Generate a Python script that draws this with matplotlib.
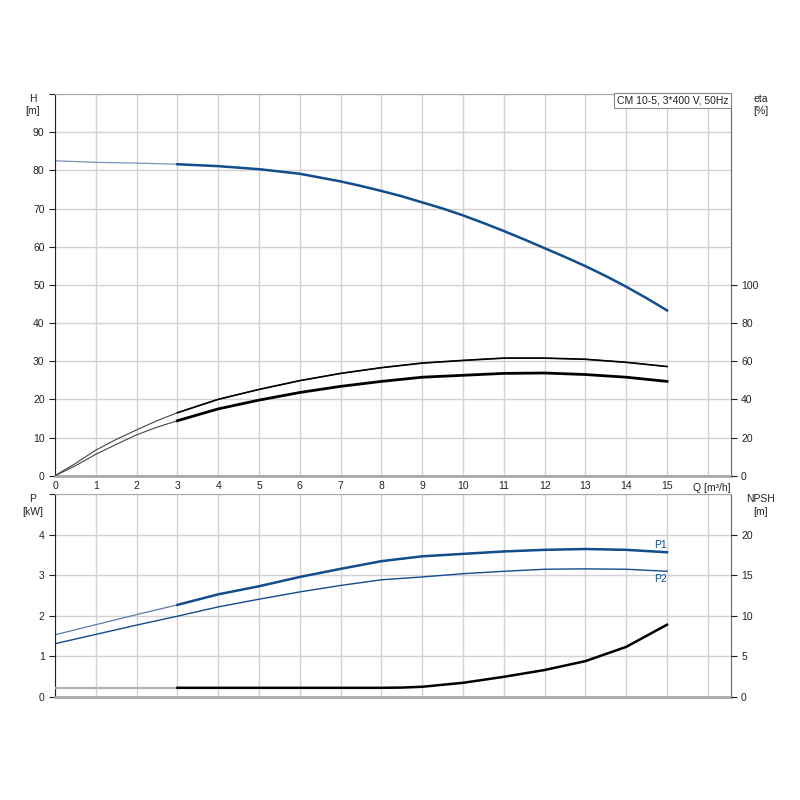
import matplotlib.pyplot as plt
import numpy as np

plt.rcParams['font.family'] = ['Liberation Sans', 'DejaVu Sans']

# values, flow in m3/h
q_head = np.array([0, 1, 2, 3, 4, 5, 6, 7, 7.5, 8, 8.5, 9, 9.5, 10, 10.5,
                   11, 11.5, 12, 12.5, 13, 13.5, 14, 14.5, 15])
head = np.array([82.5, 82.1, 81.9, 81.6, 81.1, 80.3, 79.1, 77.1, 75.9, 74.6,
                 73.2, 71.6, 70.0, 68.2, 66.2, 64.1, 61.9, 59.6, 57.3, 54.9,
                 52.3, 49.5, 46.5, 43.3])

q_eta = np.array([0, 0.5, 1, 1.5, 2, 2.5, 3, 4, 5, 6, 7, 8, 9, 10, 11, 12,
                  13, 14, 15])
eta_pump = np.array([0, 6.4, 13.4, 19.0, 24.0, 28.8, 33.0, 40.0, 45.2, 49.8,
                     53.6, 56.6, 59.0, 60.4, 61.6, 61.6, 61.0, 59.4, 57.2])
eta_total = np.array([0, 5.2, 11.2, 16.4, 21.4, 25.4, 28.8, 35.0, 39.6, 43.6,
                      46.8, 49.4, 51.6, 52.6, 53.6, 53.8, 53.0, 51.6, 49.4])

q_pow = np.array([0, 1, 2, 3, 4, 5, 6, 7, 8, 9, 10, 11, 12, 13, 14, 15])
p1 = np.array([1.53, 1.78, 2.03, 2.27, 2.53, 2.73, 2.96, 3.16, 3.35, 3.47,
               3.53, 3.59, 3.63, 3.65, 3.63, 3.57])
p2 = np.array([1.31, 1.54, 1.77, 1.99, 2.22, 2.41, 2.59, 2.75, 2.89, 2.96,
               3.04, 3.10, 3.15, 3.16, 3.15, 3.10])

q_npsh = np.array([0, 3, 4, 5, 6, 7, 8, 8.5, 9, 10, 11, 12, 13, 14, 15])
npsh = np.array([1.1, 1.1, 1.1, 1.1, 1.1, 1.1, 1.1, 1.13, 1.23, 1.72, 2.46,
                 3.3, 4.4, 6.16, 8.9])

title = 'CM 10-5, 3*400 V, 50Hz'
blue = '#124d8c'
grid_c = '#d2d2d2'
q_start = 3  # thin line below this flow

fig = plt.figure(figsize=(8, 8), dpi=100)
ax1 = fig.add_axes([0.06875, 0.4054, 0.8446, 0.4771])
ax2 = fig.add_axes([0.06875, 0.1291, 0.8446, 0.2529])

def style(ax):
    ax.set_xlim(0, 16.56)
    ax.set_xticks(np.arange(0, 17))
    ax.grid(True, color=grid_c, lw=1)
    ax.set_axisbelow(True)
    ax.spines['left'].set_color('#222222')
    ax.spines['top'].set_color('#a8a8a8')
    ax.spines['bottom'].set_color('#a8a8a8')
    ax.spines['bottom'].set_linewidth(2)
    ax.spines['right'].set_color('#666666')
    ax.tick_params(axis='both', labelsize=7.5, colors='#222222', length=4)
    ax.tick_params(axis='x', length=0)

style(ax1)
style(ax2)

# top: head and efficiency
ax1.set_ylim(0, 100)
ax1.set_yticks(np.arange(0, 101, 10))
ax1.set_yticklabels([str(v) for v in range(0, 100, 10)] + [''])
ax1.set_xticklabels([str(v) for v in range(0, 16)] + [''])
ax1.tick_params(axis='x', pad=4)

m = q_head >= q_start
ax1.plot(q_head, head, color='#7a93b8', lw=0.9)
ax1.plot(q_head[m], head[m], color=blue, lw=1.8)

axe = ax1.twinx()
axe.set_ylim(0, 200)
axe.set_yticks(np.arange(0, 101, 20))
axe.tick_params(labelsize=7.5, colors='#222222', length=4)
for s in axe.spines.values():
    s.set_visible(False)
m = q_eta >= q_start
axe.plot(q_eta, eta_pump, color='#444444', lw=0.8)
axe.plot(q_eta[m], eta_pump[m], color='black', lw=1.2)
axe.plot(q_eta, eta_total, color='#444444', lw=0.8)
axe.plot(q_eta[m], eta_total[m], color='black', lw=2.0)

ax1.text(-0.55, 100, 'H\n[m]', ha='center', va='top', fontsize=7.5,
         color='#222222', linespacing=1.3)
ax1.text(17.3, 100, 'eta\n[%]', ha='center', va='top', fontsize=7.5,
         color='#222222', linespacing=1.3)
ax1.text(16.55, -1.9, 'Q [m³/h]', ha='right', va='top', fontsize=7.5,
         color='#222222')
ax1.text(16.5, 99.6, title, ha='right', va='top', fontsize=7.5,
         color='#222222',
         bbox=dict(boxstyle='square,pad=0.25', fc='white', ec='#888888', lw=0.8))

# bottom: power and NPSH
ax2.set_ylim(0, 5)
ax2.set_yticks(np.arange(0, 6, 1))
ax2.set_yticklabels([str(v) for v in range(0, 5)] + [''])
ax2.set_xticklabels([])

m = q_pow >= q_start
ax2.plot(q_pow, p1, color='#5a7aa8', lw=0.9)
ax2.plot(q_pow[m], p1[m], color=blue, lw=1.8)
ax2.plot(q_pow, p2, color=blue, lw=1.0)
ax2.text(15, p1[-1] + 0.06, 'P1', ha='right', va='bottom', fontsize=7.5, color=blue)
ax2.text(15, p2[-1] - 0.06, 'P2', ha='right', va='top', fontsize=7.5, color=blue)

axn = ax2.twinx()
axn.set_ylim(0, 25)
axn.set_yticks(np.arange(0, 21, 5))
axn.tick_params(labelsize=7.5, colors='#222222', length=4)
for s in axn.spines.values():
    s.set_visible(False)
m = q_npsh >= q_start
axn.plot(q_npsh[:2], npsh[:2], color='#b4b4b4', lw=1.6)
axn.plot(q_npsh[m], npsh[m], color='black', lw=1.8)

ax2.text(-0.55, 5.0, 'P\n[kW]', ha='center', va='top', fontsize=7.5,
         color='#222222', linespacing=1.3)
ax2.text(17.3, 5.0, 'NPSH\n[m]', ha='center', va='top', fontsize=7.5,
         color='#222222', linespacing=1.3)

fig.savefig('out.png', dpi=100)
